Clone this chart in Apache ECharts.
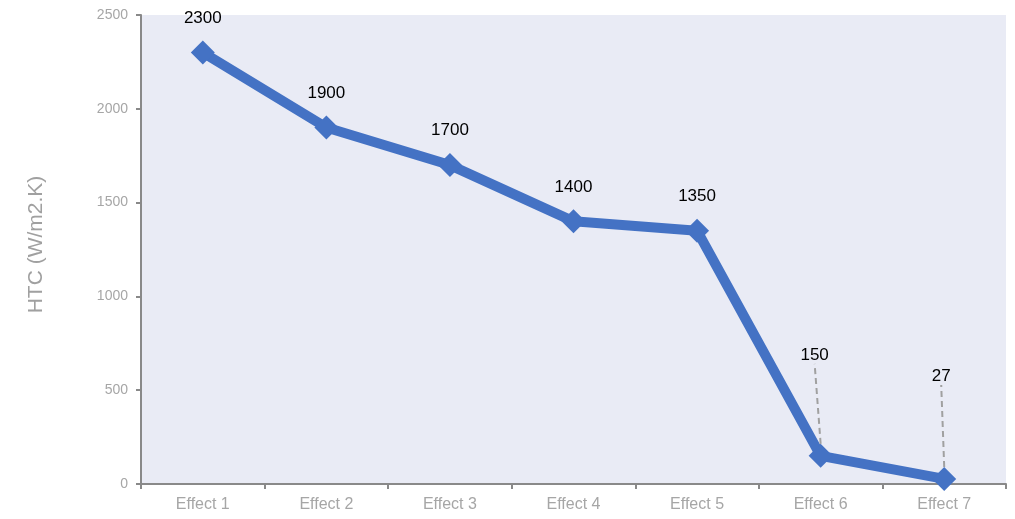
<!DOCTYPE html>
<html>
<head>
<meta charset="utf-8">
<script src="https://cdn.jsdelivr.net/npm/echarts@6/dist/echarts.min.js"></script>
<style>
  html, body { margin: 0; padding: 0; background: #fff; }
  #chart { width: 1015px; height: 519px; }
</style>
</head>
<body>
<div id="chart"></div>
<script>
// Heat transfer coefficient per effect
const categories = ['Effect 1', 'Effect 2', 'Effect 3', 'Effect 4', 'Effect 5', 'Effect 6', 'Effect 7'];
const htcValues = [2300, 1900, 1700, 1400, 1350, 150, 27];
const yTicks = { min: 0, max: 2500, interval: 500 };

const chart = echarts.init(document.getElementById('chart'));
const FONT = '"Liberation Sans", Arial, sans-serif';

// The two smallest values get lifted labels with a dashed leader line
const liftedLabels = { 5: { dx: -6, dy: -66 }, 6: { dx: -3, dy: -68 } };

const seriesData = htcValues.map(function (v, i) {
  return {
    value: v,
    labelLine: { show: !!liftedLabels[i] }
  };
});

chart.setOption({
  animation: false,
  grid: {
    left: 141, right: 9, top: 15, bottom: 35,
    show: true, backgroundColor: '#E9EBF5', borderWidth: 0
  },
  xAxis: {
    type: 'category',
    data: categories,
    boundaryGap: true,
    axisLine: { lineStyle: { color: '#898989', width: 2 } },
    axisTick: { show: true, length: 5, lineStyle: { color: '#898989', width: 2 } },
    axisLabel: { color: '#A6A6A6', fontSize: 16, fontFamily: FONT, margin: 13 },
    splitLine: { show: false }
  },
  yAxis: {
    type: 'value',
    min: yTicks.min, max: yTicks.max, interval: yTicks.interval,
    name: 'HTC (W/m2.K)',
    nameLocation: 'middle',
    nameGap: 94,
    nameTextStyle: { color: '#A0A0A0', fontSize: 21, fontFamily: FONT, padding: [0, 0, 0, 10] },
    axisLine: { show: true, lineStyle: { color: '#898989', width: 2 } },
    axisTick: { show: true, length: 5, lineStyle: { color: '#898989', width: 2 } },
    axisLabel: {
      color: '#A6A6A6', fontSize: 14, fontFamily: FONT, margin: 13,
      formatter: function (v) { return String(v); }
    },
    splitLine: { show: false }
  },
  series: [{
    type: 'line',
    data: seriesData,
    symbol: 'diamond',
    symbolSize: 24,
    itemStyle: { color: '#4472C4' },
    lineStyle: { color: '#4472C4', width: 10 },
    label: {
      show: true,
      position: 'top',
      distance: 14,
      color: '#000',
      fontSize: 17,
      fontFamily: FONT
    },
    labelLine: {
      show: false,
      lineStyle: { color: '#A0A0A0', width: 2, type: [6, 4] }
    },
    labelLayout: function (params) {
      return liftedLabels[params.dataIndex] || {};
    }
  }]
});
</script>
</body>
</html>
